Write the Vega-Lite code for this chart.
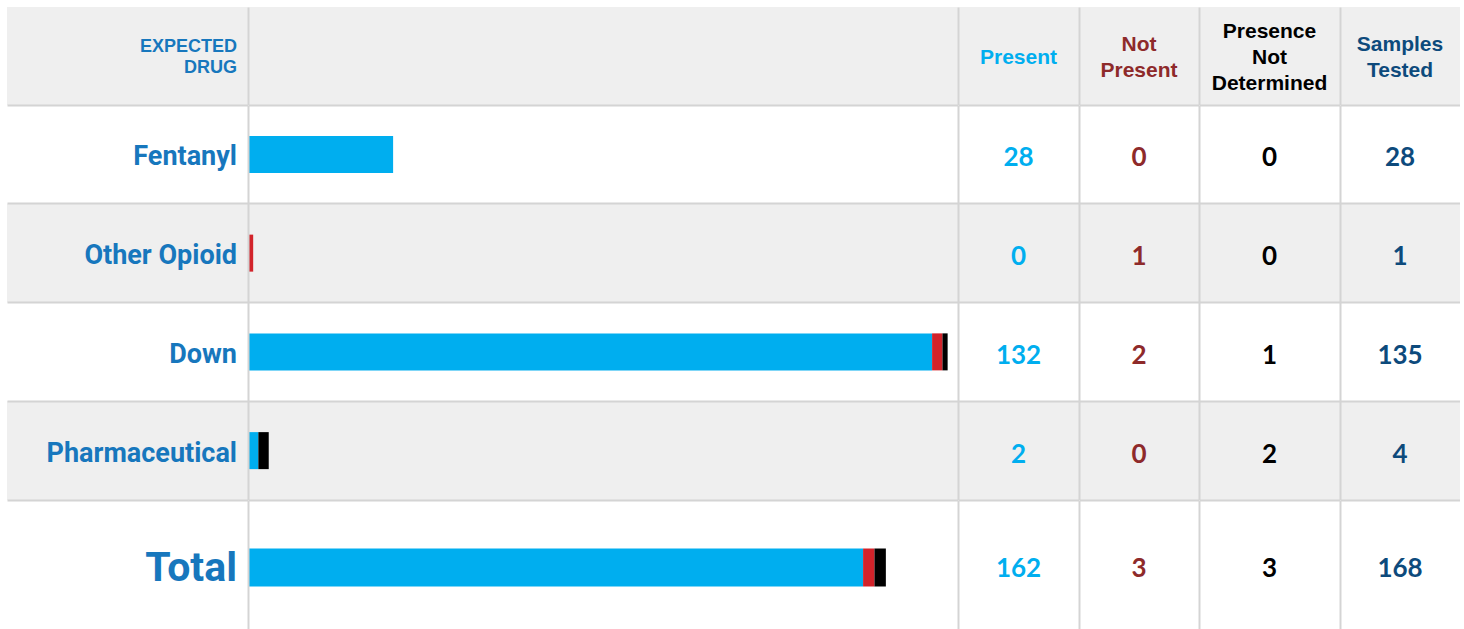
{
"$schema":"https://vega.github.io/schema/vega-lite/v6.json",
"padding":{"left":7,"top":7,"right":0,"bottom":0},
"background":"#ffffff",
"config":{"view":{"stroke":null}},
"datasets":{
 "rows":[
  {"drug":"Fentanyl","present":28,"not_present":0,"not_determined":0,"tested":28},
  {"drug":"Other Opioid","present":0,"not_present":1,"not_determined":0,"tested":1},
  {"drug":"Down","present":132,"not_present":2,"not_determined":1,"tested":135},
  {"drug":"Pharmaceutical","present":2,"not_present":0,"not_determined":2,"tested":4},
  {"drug":"Total","present":162,"not_present":3,"not_determined":3,"tested":168}
 ],
 "head":[
  {"col":"label","h":"EXPECTED DRUG"},
  {"col":"bar","h":"bar"},
  {"col":"present","h":"Present"},
  {"col":"not_present","h":"Not Present"},
  {"col":"not_determined","h":"Presence Not Determined"},
  {"col":"tested","h":"Samples Tested"}
 ]
},
"spacing":0,
"vconcat":[
 {"spacing":0,"bounds":"flush","hconcat":[
  {"width":241,"height":98,"data":{"name":"head"},"transform":[{"filter":"datum.col === 'label'"}],
   "layer":[
    {"mark":"rect","encoding":{"y":{"field":"h","type":"nominal","axis":null,"scale":{"paddingInner":0,"paddingOuter":0}},"x":{"value":0},"x2":{"value":"width"},"color":{"value":"#efefef"}}},
    {"mark":{"type":"text","align":"right","dx":-11,"dy":-9,"font":"Liberation Sans","fontWeight":"bold","fontSize":18,"lineHeight":21,"lineBreak":" ","color":"#1777bd"},"encoding":{"y":{"field":"h","type":"nominal"},"x":{"value":"width"},"text":{"field":"h"}}}
   ]},
  {"width":710,"height":98,"data":{"name":"head"},"transform":[{"filter":"datum.col === 'bar'"}],
   "layer":[
    {"mark":"rect","encoding":{"y":{"field":"h","type":"nominal","axis":{"title":null,"labels":false,"ticks":false,"domain":true,"domainColor":"#d4d4d4","domainWidth":2,"grid":false,"zindex":1},"scale":{"paddingInner":0,"paddingOuter":0}},"x":{"value":0},"x2":{"value":"width"},"color":{"value":"#efefef"}}}
   ]},
  {"width":121,"height":98,"data":{"name":"head"},"transform":[{"filter":"datum.col === 'present'"}],
   "layer":[
    {"mark":"rect","encoding":{"y":{"field":"h","type":"nominal","axis":{"title":null,"labels":false,"ticks":false,"domain":true,"domainColor":"#d4d4d4","domainWidth":2,"grid":false,"zindex":1},"scale":{"paddingInner":0,"paddingOuter":0}},"x":{"value":0},"x2":{"value":"width"},"color":{"value":"#efefef"}}},
    {"mark":{"type":"text","dy":2,"font":"Liberation Sans","fontWeight":"bold","fontSize":21,"lineHeight":26,"lineBreak":" ","color":"#00aeef"},"encoding":{"y":{"field":"h","type":"nominal"},"text":{"field":"h"}}}
   ]},
  {"width":120,"height":98,"data":{"name":"head"},"transform":[{"filter":"datum.col === 'not_present'"}],
   "layer":[
    {"mark":"rect","encoding":{"y":{"field":"h","type":"nominal","axis":{"title":null,"labels":false,"ticks":false,"domain":true,"domainColor":"#d4d4d4","domainWidth":2,"grid":false,"zindex":1},"scale":{"paddingInner":0,"paddingOuter":0}},"x":{"value":0},"x2":{"value":"width"},"color":{"value":"#efefef"}}},
    {"mark":{"type":"text","dy":-11,"font":"Liberation Sans","fontWeight":"bold","fontSize":21,"lineHeight":26,"lineBreak":" ","color":"#8e2a2a"},"encoding":{"y":{"field":"h","type":"nominal"},"text":{"field":"h"}}}
   ]},
  {"width":141,"height":98,"data":{"name":"head"},"transform":[{"filter":"datum.col === 'not_determined'"}],
   "layer":[
    {"mark":"rect","encoding":{"y":{"field":"h","type":"nominal","axis":{"title":null,"labels":false,"ticks":false,"domain":true,"domainColor":"#d4d4d4","domainWidth":2,"grid":false,"zindex":1},"scale":{"paddingInner":0,"paddingOuter":0}},"x":{"value":0},"x2":{"value":"width"},"color":{"value":"#efefef"}}},
    {"mark":{"type":"text","dy":-24,"font":"Liberation Sans","fontWeight":"bold","fontSize":21,"lineHeight":26,"lineBreak":" ","color":"#000000"},"encoding":{"y":{"field":"h","type":"nominal"},"text":{"field":"h"}}}
   ]},
  {"width":120,"height":98,"data":{"name":"head"},"transform":[{"filter":"datum.col === 'tested'"}],
   "layer":[
    {"mark":"rect","encoding":{"y":{"field":"h","type":"nominal","axis":{"title":null,"labels":false,"ticks":false,"domain":true,"domainColor":"#d4d4d4","domainWidth":2,"grid":false,"zindex":1},"scale":{"paddingInner":0,"paddingOuter":0}},"x":{"value":0},"x2":{"value":"width"},"color":{"value":"#efefef"}}},
    {"mark":{"type":"text","dy":-11,"font":"Liberation Sans","fontWeight":"bold","fontSize":21,"lineHeight":26,"lineBreak":" ","color":"#0d4a7c"},"encoding":{"y":{"field":"h","type":"nominal"},"text":{"field":"h"}}}
   ]}
 ]},
 {"spacing":0,"bounds":"flush","hconcat":[
  {"width":241,"height":395,"data":{"name":"rows"},"transform":[{"filter":"datum.drug !== 'Total'"}],
   "layer":[
    {"mark":"rect","encoding":{"y":{"field":"drug","type":"nominal","axis":{"title":null,"labels":false,"ticks":false,"domain":false,"grid":true,"gridColor":"#d4d4d4","gridWidth":2,"bandPosition":0,"zindex":1},"scale":{"domain":["Fentanyl","Other Opioid","Down","Pharmaceutical"],"paddingInner":0,"paddingOuter":0}},"x":{"value":0},"x2":{"value":"width"},"color":{"condition":{"test":"datum.drug === 'Other Opioid' || datum.drug === 'Pharmaceutical'","value":"#efefef"},"value":"#ffffff"}}},
    {"mark":{"type":"text","align":"right","dx":-11,"dy":3,"font":"Roboto","fontWeight":"bold","fontSize":27,"color":"#1777bd"},"encoding":{"y":{"field":"drug","type":"nominal"},"x":{"value":"width"},"text":{"field":"drug"}}}
   ]},
  {"width":710,"height":395,"data":{"name":"rows"},"transform":[{"filter":"datum.drug !== 'Total'"}],
   "layer":[
    {"mark":"rect","encoding":{"y":{"field":"drug","type":"nominal","axis":{"title":null,"labels":false,"ticks":false,"domain":true,"domainColor":"#d4d4d4","domainWidth":2,"grid":true,"gridColor":"#d4d4d4","gridWidth":2,"bandPosition":0,"zindex":1},"scale":{"domain":["Fentanyl","Other Opioid","Down","Pharmaceutical"],"paddingInner":0,"paddingOuter":0}},"x":{"value":0},"x2":{"value":"width"},"color":{"condition":{"test":"datum.drug === 'Other Opioid' || datum.drug === 'Pharmaceutical'","value":"#efefef"},"value":"#ffffff"}}},
    {"transform":[{"fold":["present","not_present","not_determined"],"as":["status","count"]}],
     "mark":{"type":"bar","height":37},
     "encoding":{"y":{"field":"drug","type":"nominal"},"x":{"field":"count","type":"quantitative","stack":"zero","scale":{"domain":[0,137],"nice":false},"axis":null},
      "order":{"field":"status","sort":"descending"},
      "fill":{"field":"status","type":"nominal","scale":{"domain":["present","not_present","not_determined"],"range":["#00aeef","#d2232a","#000000"]},"legend":null}}}
   ]},
  {"width":121,"height":395,"data":{"name":"rows"},"transform":[{"filter":"datum.drug !== 'Total'"}],
   "layer":[
    {"mark":"rect","encoding":{"y":{"field":"drug","type":"nominal","axis":{"title":null,"labels":false,"ticks":false,"domain":true,"domainColor":"#d4d4d4","domainWidth":2,"grid":true,"gridColor":"#d4d4d4","gridWidth":2,"bandPosition":0,"zindex":1},"scale":{"domain":["Fentanyl","Other Opioid","Down","Pharmaceutical"],"paddingInner":0,"paddingOuter":0}},"x":{"value":0},"x2":{"value":"width"},"color":{"condition":{"test":"datum.drug === 'Other Opioid' || datum.drug === 'Pharmaceutical'","value":"#efefef"},"value":"#ffffff"}}},
    {"mark":{"type":"text","dy":4,"font":"Lato","fontWeight":"bold","fontSize":26,"color":"#00aeef"},"encoding":{"y":{"field":"drug","type":"nominal"},"text":{"field":"present"}}}
   ]},
  {"width":120,"height":395,"data":{"name":"rows"},"transform":[{"filter":"datum.drug !== 'Total'"}],
   "layer":[
    {"mark":"rect","encoding":{"y":{"field":"drug","type":"nominal","axis":{"title":null,"labels":false,"ticks":false,"domain":true,"domainColor":"#d4d4d4","domainWidth":2,"grid":true,"gridColor":"#d4d4d4","gridWidth":2,"bandPosition":0,"zindex":1},"scale":{"domain":["Fentanyl","Other Opioid","Down","Pharmaceutical"],"paddingInner":0,"paddingOuter":0}},"x":{"value":0},"x2":{"value":"width"},"color":{"condition":{"test":"datum.drug === 'Other Opioid' || datum.drug === 'Pharmaceutical'","value":"#efefef"},"value":"#ffffff"}}},
    {"mark":{"type":"text","dy":4,"font":"Lato","fontWeight":"bold","fontSize":26,"color":"#8e2a2a"},"encoding":{"y":{"field":"drug","type":"nominal"},"text":{"field":"not_present"}}}
   ]},
  {"width":141,"height":395,"data":{"name":"rows"},"transform":[{"filter":"datum.drug !== 'Total'"}],
   "layer":[
    {"mark":"rect","encoding":{"y":{"field":"drug","type":"nominal","axis":{"title":null,"labels":false,"ticks":false,"domain":true,"domainColor":"#d4d4d4","domainWidth":2,"grid":true,"gridColor":"#d4d4d4","gridWidth":2,"bandPosition":0,"zindex":1},"scale":{"domain":["Fentanyl","Other Opioid","Down","Pharmaceutical"],"paddingInner":0,"paddingOuter":0}},"x":{"value":0},"x2":{"value":"width"},"color":{"condition":{"test":"datum.drug === 'Other Opioid' || datum.drug === 'Pharmaceutical'","value":"#efefef"},"value":"#ffffff"}}},
    {"mark":{"type":"text","dy":4,"font":"Lato","fontWeight":"bold","fontSize":26,"color":"#000000"},"encoding":{"y":{"field":"drug","type":"nominal"},"text":{"field":"not_determined"}}}
   ]},
  {"width":120,"height":395,"data":{"name":"rows"},"transform":[{"filter":"datum.drug !== 'Total'"}],
   "layer":[
    {"mark":"rect","encoding":{"y":{"field":"drug","type":"nominal","axis":{"title":null,"labels":false,"ticks":false,"domain":true,"domainColor":"#d4d4d4","domainWidth":2,"grid":true,"gridColor":"#d4d4d4","gridWidth":2,"bandPosition":0,"zindex":1},"scale":{"domain":["Fentanyl","Other Opioid","Down","Pharmaceutical"],"paddingInner":0,"paddingOuter":0}},"x":{"value":0},"x2":{"value":"width"},"color":{"condition":{"test":"datum.drug === 'Other Opioid' || datum.drug === 'Pharmaceutical'","value":"#efefef"},"value":"#ffffff"}}},
    {"mark":{"type":"text","dy":4,"font":"Lato","fontWeight":"bold","fontSize":26,"color":"#0d4a7c"},"encoding":{"y":{"field":"drug","type":"nominal"},"text":{"field":"tested"}}}
   ]}
 ]},
 {"spacing":0,"bounds":"flush","hconcat":[
  {"width":241,"height":129,"data":{"name":"rows"},"transform":[{"filter":"datum.drug === 'Total'"}],
   "layer":[
    {"mark":"rect","encoding":{"y":{"field":"drug","type":"nominal","axis":{"title":null,"labels":false,"ticks":false,"domain":false,"grid":true,"gridColor":"#d4d4d4","gridWidth":2,"bandPosition":0,"zindex":1},"scale":{"domain":["Total"],"paddingInner":0,"paddingOuter":0}},"x":{"value":0},"x2":{"value":"width"},"color":{"value":"#ffffff"}}},
    {"mark":{"type":"text","align":"right","dx":-11,"dy":4,"font":"Roboto","fontWeight":"bold","fontSize":41,"color":"#1777bd"},"encoding":{"y":{"field":"drug","type":"nominal"},"x":{"value":"width"},"text":{"field":"drug"}}}
   ]},
  {"width":710,"height":129,"data":{"name":"rows"},"transform":[{"filter":"datum.drug === 'Total'"}],
   "layer":[
    {"mark":"rect","encoding":{"y":{"field":"drug","type":"nominal","axis":{"title":null,"labels":false,"ticks":false,"domain":true,"domainColor":"#d4d4d4","domainWidth":2,"grid":true,"gridColor":"#d4d4d4","gridWidth":2,"bandPosition":0,"zindex":1},"scale":{"domain":["Total"],"paddingInner":0,"paddingOuter":0}},"x":{"value":0},"x2":{"value":"width"},"color":{"value":"#ffffff"}}},
    {"transform":[{"fold":["present","not_present","not_determined"],"as":["status","count"]}],
     "mark":{"type":"bar","height":38,"yOffset":3},
     "encoding":{"y":{"field":"drug","type":"nominal"},"x":{"field":"count","type":"quantitative","stack":"zero","scale":{"domain":[0,187],"nice":false},"axis":null},
      "order":{"field":"status","sort":"descending"},
      "fill":{"field":"status","type":"nominal","scale":{"domain":["present","not_present","not_determined"],"range":["#00aeef","#d2232a","#000000"]},"legend":null}}}
   ]},
  {"width":121,"height":129,"data":{"name":"rows"},"transform":[{"filter":"datum.drug === 'Total'"}],
   "layer":[
    {"mark":"rect","encoding":{"y":{"field":"drug","type":"nominal","axis":{"title":null,"labels":false,"ticks":false,"domain":true,"domainColor":"#d4d4d4","domainWidth":2,"grid":true,"gridColor":"#d4d4d4","gridWidth":2,"bandPosition":0,"zindex":1},"scale":{"domain":["Total"],"paddingInner":0,"paddingOuter":0}},"x":{"value":0},"x2":{"value":"width"},"color":{"value":"#ffffff"}}},
    {"mark":{"type":"text","dy":4,"font":"Lato","fontWeight":"bold","fontSize":26,"color":"#00aeef"},"encoding":{"y":{"field":"drug","type":"nominal"},"text":{"field":"present"}}}
   ]},
  {"width":120,"height":129,"data":{"name":"rows"},"transform":[{"filter":"datum.drug === 'Total'"}],
   "layer":[
    {"mark":"rect","encoding":{"y":{"field":"drug","type":"nominal","axis":{"title":null,"labels":false,"ticks":false,"domain":true,"domainColor":"#d4d4d4","domainWidth":2,"grid":true,"gridColor":"#d4d4d4","gridWidth":2,"bandPosition":0,"zindex":1},"scale":{"domain":["Total"],"paddingInner":0,"paddingOuter":0}},"x":{"value":0},"x2":{"value":"width"},"color":{"value":"#ffffff"}}},
    {"mark":{"type":"text","dy":4,"font":"Lato","fontWeight":"bold","fontSize":26,"color":"#8e2a2a"},"encoding":{"y":{"field":"drug","type":"nominal"},"text":{"field":"not_present"}}}
   ]},
  {"width":141,"height":129,"data":{"name":"rows"},"transform":[{"filter":"datum.drug === 'Total'"}],
   "layer":[
    {"mark":"rect","encoding":{"y":{"field":"drug","type":"nominal","axis":{"title":null,"labels":false,"ticks":false,"domain":true,"domainColor":"#d4d4d4","domainWidth":2,"grid":true,"gridColor":"#d4d4d4","gridWidth":2,"bandPosition":0,"zindex":1},"scale":{"domain":["Total"],"paddingInner":0,"paddingOuter":0}},"x":{"value":0},"x2":{"value":"width"},"color":{"value":"#ffffff"}}},
    {"mark":{"type":"text","dy":4,"font":"Lato","fontWeight":"bold","fontSize":26,"color":"#000000"},"encoding":{"y":{"field":"drug","type":"nominal"},"text":{"field":"not_determined"}}}
   ]},
  {"width":120,"height":129,"data":{"name":"rows"},"transform":[{"filter":"datum.drug === 'Total'"}],
   "layer":[
    {"mark":"rect","encoding":{"y":{"field":"drug","type":"nominal","axis":{"title":null,"labels":false,"ticks":false,"domain":true,"domainColor":"#d4d4d4","domainWidth":2,"grid":true,"gridColor":"#d4d4d4","gridWidth":2,"bandPosition":0,"zindex":1},"scale":{"domain":["Total"],"paddingInner":0,"paddingOuter":0}},"x":{"value":0},"x2":{"value":"width"},"color":{"value":"#ffffff"}}},
    {"mark":{"type":"text","dy":4,"font":"Lato","fontWeight":"bold","fontSize":26,"color":"#0d4a7c"},"encoding":{"y":{"field":"drug","type":"nominal"},"text":{"field":"tested"}}}
   ]}
 ]}
]
}
